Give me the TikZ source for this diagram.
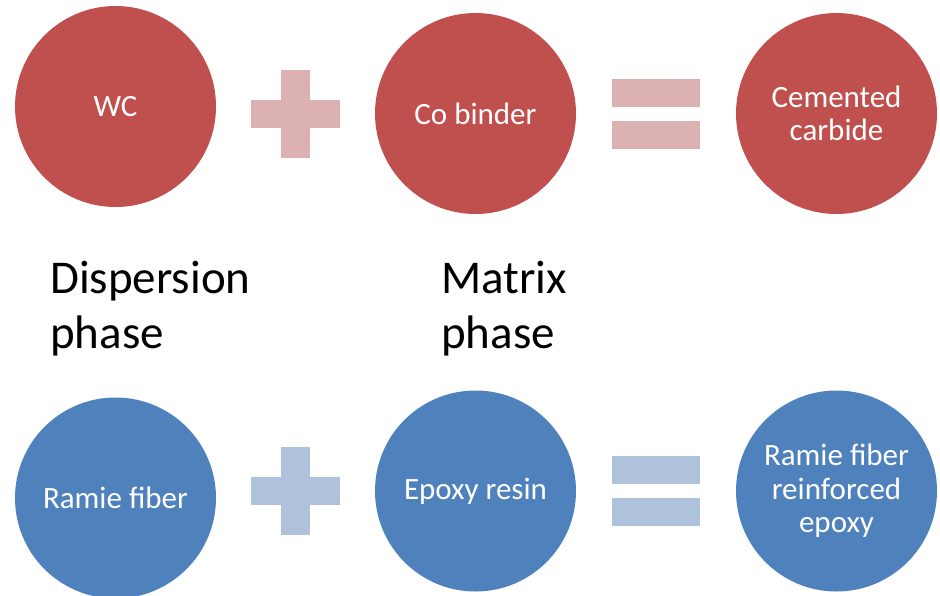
\documentclass[tikz,border=0pt]{standalone}
\usepackage{fontspec}
\setmainfont{Carlito}
\definecolor{redc}{HTML}{C0504D}
\definecolor{redl}{HTML}{DBB1B1}
\definecolor{bluec}{HTML}{4F81BD}
\definecolor{bluel}{HTML}{B0C1DC}
\tikzset{
  ball/.style={circle, minimum size=201pt, inner sep=0pt, text=white, align=center,
    font=\fontsize{31}{33.5}\selectfont},
  redball/.style={ball, fill=redc},
  blueball/.style={ball, fill=bluec},
  phase/.style={anchor=base west, align=left, inner sep=0pt, font=\fontsize{47}{55}\selectfont}
}
\begin{document}
\begin{tikzpicture}[x=1pt,y=-1pt]
\useasboundingbox (0,0) rectangle (940,595);
\begin{scope}
\clip (0,0) rectangle (940,595);
% top row
\node[redball] (wc) at (115.5,106.5) {WC};
\node[redball] (co) at (475.5,113.5) {Co binder};
\node[redball] (cc) at (836.5,113.5) {Cemented\\carbide};
\fill[redl] (281,70) rectangle (310,158);
\fill[redl] (251,100) rectangle (340,128);
\fill[redl] (612,79) rectangle (700,107);
\fill[redl] (612,121) rectangle (700,149);
% bottom row
\node[blueball] (rf) at (115.5,498) {Ramie fiber};
\node[blueball] (er) at (475.5,491) {Epoxy resin};
\node[blueball] (rfe) at (836.5,491) {Ramie fiber\\reinforced\\epoxy};
\fill[bluel] (281,447) rectangle (310,535);
\fill[bluel] (251,477) rectangle (340,505);
\fill[bluel] (612,456) rectangle (700,484);
\fill[bluel] (612,498) rectangle (700,526);
\end{scope}
% labels
\node[phase] (disp) at (50,348) {Dispersion\\phase};
\node[phase] (matr) at (441,348) {Matrix\\phase};
\end{tikzpicture}
\end{document}
